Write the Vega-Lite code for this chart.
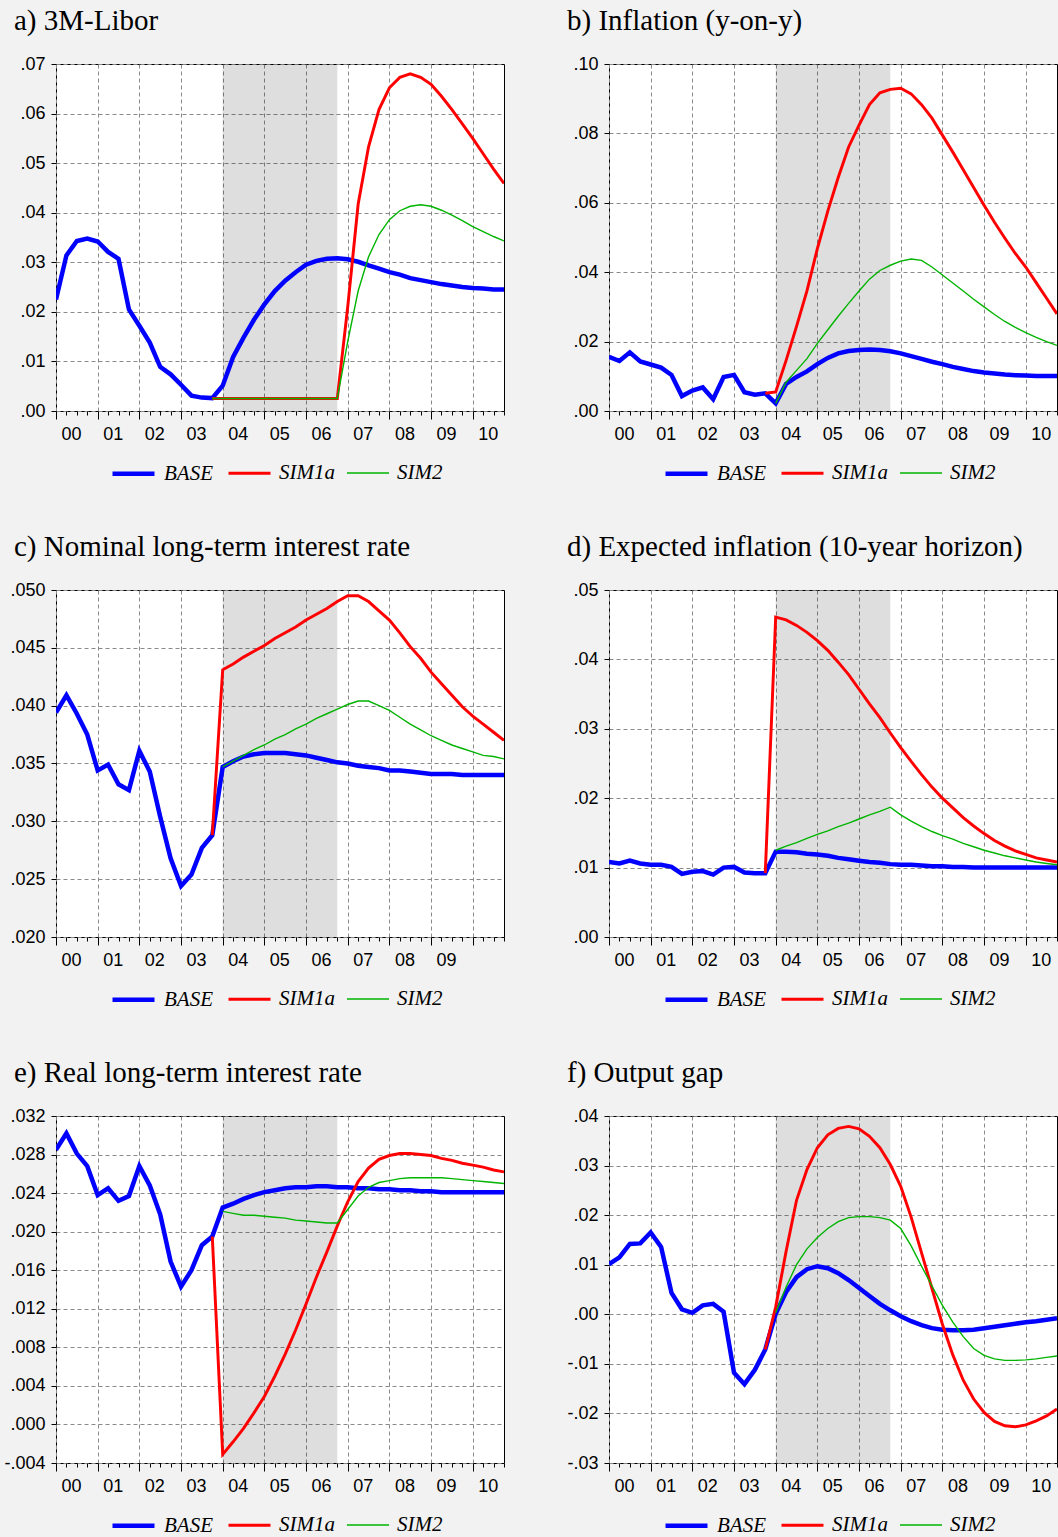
{
  "$schema": "https://vega.github.io/schema/vega-lite/v6.json",
  "background": "#f2f2f2",
  "padding": {"left": 3, "top": 6, "right": 0, "bottom": 0},
  "columns": 2,
  "spacing": {"row": 47, "column": 46},
  "resolve": {
    "scale": {"x": "independent", "y": "independent", "color": "independent", "strokeWidth": "independent"},
    "legend": {"color": "independent", "strokeWidth": "independent"}
  },
  "config": {
    "view": {"stroke": "#000000", "strokeWidth": 1, "fill": "#ffffff"},
    "title": {"anchor": "start", "frame": "group", "dx": -42, "font": "Liberation Serif", "fontSize": 29, "fontWeight": "normal", "color": "#000000", "offset": 19},
    "axis": {
      "domain": false, "labelFont": "Liberation Sans", "labelFontSize": 18, "labelColor": "#000000",
      "tickColor": "#000000", "gridColor": "#8a8a8a", "gridDash": [4, 3], "gridWidth": 1,
      "labelOverlap": false, "labelFlush": false, "labelBound": false
    },
    "axisX": {"labelOffset": 15, "labelPadding": 6},
    "axisY": {"tickSize": 5, "labelPadding": 6},
    "legend": {
      "symbolType": "stroke", "symbolSize": 1764, "labelFont": "Liberation Serif", "labelFontStyle": "italic",
      "labelFontSize": 21, "labelColor": "#000000", "labelOffset": 7, "columnPadding": 9, "labelLimit": 300
    }
  },
  "datasets": {
    "a": [
      {"q":0,"BASE":0.0225},{"q":1,"BASE":0.0314},{"q":2,"BASE":0.0343},{"q":3,"BASE":0.0348},{"q":4,"BASE":0.0342},
      {"q":5,"BASE":0.0321},{"q":6,"BASE":0.0307},{"q":7,"BASE":0.0205},{"q":8,"BASE":0.0172},{"q":9,"BASE":0.0138},
      {"q":10,"BASE":0.0089},{"q":11,"BASE":0.0074},{"q":12,"BASE":0.0053},{"q":13,"BASE":0.0031},{"q":14,"BASE":0.0027},
      {"q":15,"BASE":0.0026,"SIM1a":0.00253,"SIM2":0.00253},
      {"q":16,"BASE":0.0051,"SIM1a":0.00253,"SIM2":0.00253},
      {"q":17,"BASE":0.0109,"SIM1a":0.00253,"SIM2":0.00253},
      {"q":18,"BASE":0.0148,"SIM1a":0.00253,"SIM2":0.00253},
      {"q":19,"BASE":0.0184,"SIM1a":0.00253,"SIM2":0.00253},
      {"q":20,"BASE":0.0215,"SIM1a":0.00253,"SIM2":0.00253},
      {"q":21,"BASE":0.0242,"SIM1a":0.00253,"SIM2":0.00253},
      {"q":22,"BASE":0.0263,"SIM1a":0.00253,"SIM2":0.00253},
      {"q":23,"BASE":0.0280,"SIM1a":0.00253,"SIM2":0.00253},
      {"q":24,"BASE":0.0295,"SIM1a":0.00253,"SIM2":0.00253},
      {"q":25,"BASE":0.0303,"SIM1a":0.00253,"SIM2":0.00253},
      {"q":26,"BASE":0.0307,"SIM1a":0.00253,"SIM2":0.00253},
      {"q":27,"BASE":0.0308,"SIM1a":0.00253,"SIM2":0.00253},
      {"q":28,"BASE":0.0306,"SIM1a":0.0210,"SIM2":0.0140},
      {"q":29,"BASE":0.0301,"SIM1a":0.0417,"SIM2":0.0242},
      {"q":30,"BASE":0.0294,"SIM1a":0.0533,"SIM2":0.0311},
      {"q":31,"BASE":0.0287,"SIM1a":0.0608,"SIM2":0.0356},
      {"q":32,"BASE":0.0280,"SIM1a":0.0652,"SIM2":0.0386},
      {"q":33,"BASE":0.0275,"SIM1a":0.0673,"SIM2":0.0404},
      {"q":34,"BASE":0.0268,"SIM1a":0.0680,"SIM2":0.0413},
      {"q":35,"BASE":0.0264,"SIM1a":0.0673,"SIM2":0.0416},
      {"q":36,"BASE":0.0260,"SIM1a":0.0659,"SIM2":0.0413},
      {"q":37,"BASE":0.0256,"SIM1a":0.0635,"SIM2":0.0405},
      {"q":38,"BASE":0.0253,"SIM1a":0.0608,"SIM2":0.0395},
      {"q":39,"BASE":0.0250,"SIM1a":0.0579,"SIM2":0.0384},
      {"q":40,"BASE":0.0248,"SIM1a":0.0550,"SIM2":0.0372},
      {"q":41,"BASE":0.0247,"SIM1a":0.0519,"SIM2":0.0362},
      {"q":42,"BASE":0.0245,"SIM1a":0.0488,"SIM2":0.0352},
      {"q":43,"BASE":0.0245,"SIM1a":0.0459,"SIM2":0.0343}
    ],
    "b": [
      {"q":0,"BASE":0.0156},{"q":1,"BASE":0.0144},{"q":2,"BASE":0.0169},{"q":3,"BASE":0.0143},{"q":4,"BASE":0.0134},
      {"q":5,"BASE":0.0125},{"q":6,"BASE":0.0104},{"q":7,"BASE":0.0043},{"q":8,"BASE":0.0059},{"q":9,"BASE":0.0068},
      {"q":10,"BASE":0.0034},{"q":11,"BASE":0.0098},{"q":12,"BASE":0.0104},{"q":13,"BASE":0.0054},{"q":14,"BASE":0.0047},
      {"q":15,"BASE":0.0051,"SIM1a":0.0051},
      {"q":16,"BASE":0.0022,"SIM1a":0.0055,"SIM2":0.0022},
      {"q":17,"BASE":0.0078,"SIM1a":0.0146,"SIM2":0.0083},
      {"q":18,"BASE":0.0098,"SIM1a":0.0244,"SIM2":0.0117},
      {"q":19,"BASE":0.0114,"SIM1a":0.0346,"SIM2":0.0151},
      {"q":20,"BASE":0.0135,"SIM1a":0.0468,"SIM2":0.0195},
      {"q":21,"BASE":0.0153,"SIM1a":0.0576,"SIM2":0.0234},
      {"q":22,"BASE":0.0166,"SIM1a":0.0673,"SIM2":0.0273},
      {"q":23,"BASE":0.0173,"SIM1a":0.0761,"SIM2":0.0310},
      {"q":24,"BASE":0.0176,"SIM1a":0.0824,"SIM2":0.0346},
      {"q":25,"BASE":0.0177,"SIM1a":0.0883,"SIM2":0.0380},
      {"q":26,"BASE":0.0176,"SIM1a":0.0917,"SIM2":0.0405},
      {"q":27,"BASE":0.0172,"SIM1a":0.0927,"SIM2":0.0420},
      {"q":28,"BASE":0.0166,"SIM1a":0.0930,"SIM2":0.0432},
      {"q":29,"BASE":0.0158,"SIM1a":0.0914,"SIM2":0.0438},
      {"q":30,"BASE":0.0150,"SIM1a":0.0883,"SIM2":0.0434},
      {"q":31,"BASE":0.0142,"SIM1a":0.0844,"SIM2":0.0415},
      {"q":32,"BASE":0.0135,"SIM1a":0.0795,"SIM2":0.0392},
      {"q":33,"BASE":0.0127,"SIM1a":0.0746,"SIM2":0.0369},
      {"q":34,"BASE":0.0121,"SIM1a":0.0695,"SIM2":0.0346},
      {"q":35,"BASE":0.0115,"SIM1a":0.0644,"SIM2":0.0322},
      {"q":36,"BASE":0.0111,"SIM1a":0.0593,"SIM2":0.0300},
      {"q":37,"BASE":0.0108,"SIM1a":0.0544,"SIM2":0.0278},
      {"q":38,"BASE":0.0105,"SIM1a":0.0498,"SIM2":0.0258},
      {"q":39,"BASE":0.0103,"SIM1a":0.0454,"SIM2":0.0241},
      {"q":40,"BASE":0.0102,"SIM1a":0.0415,"SIM2":0.0226},
      {"q":41,"BASE":0.0101,"SIM1a":0.0370,"SIM2":0.0212},
      {"q":42,"BASE":0.0101,"SIM1a":0.0325,"SIM2":0.0200},
      {"q":43,"BASE":0.0101,"SIM1a":0.0280,"SIM2":0.0189}
    ],
    "c": [
      {"q":0,"BASE":0.0394},{"q":1,"BASE":0.0409},{"q":2,"BASE":0.0393},{"q":3,"BASE":0.0375},{"q":4,"BASE":0.0344},
      {"q":5,"BASE":0.0349},{"q":6,"BASE":0.0332},{"q":7,"BASE":0.0327},{"q":8,"BASE":0.0361},{"q":9,"BASE":0.0343},
      {"q":10,"BASE":0.0304},{"q":11,"BASE":0.0268},{"q":12,"BASE":0.0244},{"q":13,"BASE":0.0254},{"q":14,"BASE":0.0277},
      {"q":15,"BASE":0.0288,"SIM1a":0.0288},
      {"q":16,"BASE":0.0347,"SIM1a":0.0431,"SIM2":0.0347},
      {"q":17,"BASE":0.0352,"SIM1a":0.0436,"SIM2":0.0352},
      {"q":18,"BASE":0.0356,"SIM1a":0.0442,"SIM2":0.0357},
      {"q":19,"BASE":0.0358,"SIM1a":0.0447,"SIM2":0.0362},
      {"q":20,"BASE":0.0359,"SIM1a":0.0452,"SIM2":0.0366},
      {"q":21,"BASE":0.0359,"SIM1a":0.0458,"SIM2":0.0371},
      {"q":22,"BASE":0.0359,"SIM1a":0.0463,"SIM2":0.0375},
      {"q":23,"BASE":0.0358,"SIM1a":0.0468,"SIM2":0.0380},
      {"q":24,"BASE":0.0357,"SIM1a":0.0474,"SIM2":0.0384},
      {"q":25,"BASE":0.0355,"SIM1a":0.0479,"SIM2":0.0389},
      {"q":26,"BASE":0.0353,"SIM1a":0.0484,"SIM2":0.0393},
      {"q":27,"BASE":0.0351,"SIM1a":0.0490,"SIM2":0.0397},
      {"q":28,"BASE":0.0350,"SIM1a":0.0495,"SIM2":0.0401},
      {"q":29,"BASE":0.0348,"SIM1a":0.0495,"SIM2":0.0404},
      {"q":30,"BASE":0.0347,"SIM1a":0.0490,"SIM2":0.0404},
      {"q":31,"BASE":0.0346,"SIM1a":0.0482,"SIM2":0.0400},
      {"q":32,"BASE":0.0344,"SIM1a":0.0474,"SIM2":0.0396},
      {"q":33,"BASE":0.0344,"SIM1a":0.0463,"SIM2":0.0390},
      {"q":34,"BASE":0.0343,"SIM1a":0.0451,"SIM2":0.0384},
      {"q":35,"BASE":0.0342,"SIM1a":0.0441,"SIM2":0.0379},
      {"q":36,"BASE":0.0341,"SIM1a":0.0429,"SIM2":0.0374},
      {"q":37,"BASE":0.0341,"SIM1a":0.0419,"SIM2":0.0370},
      {"q":38,"BASE":0.0341,"SIM1a":0.0409,"SIM2":0.0366},
      {"q":39,"BASE":0.0340,"SIM1a":0.0399,"SIM2":0.0363},
      {"q":40,"BASE":0.0340,"SIM1a":0.0391,"SIM2":0.0360},
      {"q":41,"BASE":0.0340,"SIM1a":0.0384,"SIM2":0.0357},
      {"q":42,"BASE":0.0340,"SIM1a":0.0377,"SIM2":0.0356},
      {"q":43,"BASE":0.0340,"SIM1a":0.0370,"SIM2":0.0354}
    ],
    "d": [
      {"q":0,"BASE":0.0108},{"q":1,"BASE":0.0106},{"q":2,"BASE":0.0110},{"q":3,"BASE":0.0106},{"q":4,"BASE":0.0104},
      {"q":5,"BASE":0.0104},{"q":6,"BASE":0.0101},{"q":7,"BASE":0.0091},{"q":8,"BASE":0.0094},{"q":9,"BASE":0.0095},
      {"q":10,"BASE":0.0090},{"q":11,"BASE":0.0100},{"q":12,"BASE":0.0101},{"q":13,"BASE":0.0093},{"q":14,"BASE":0.0092},
      {"q":15,"BASE":0.0092,"SIM1a":0.0092},
      {"q":16,"BASE":0.0123,"SIM1a":0.0461,"SIM2":0.0125},
      {"q":17,"BASE":0.0123,"SIM1a":0.0457,"SIM2":0.0131},
      {"q":18,"BASE":0.0122,"SIM1a":0.0449,"SIM2":0.0136},
      {"q":19,"BASE":0.0120,"SIM1a":0.0439,"SIM2":0.0142},
      {"q":20,"BASE":0.0119,"SIM1a":0.0427,"SIM2":0.0148},
      {"q":21,"BASE":0.0117,"SIM1a":0.0413,"SIM2":0.0153},
      {"q":22,"BASE":0.0114,"SIM1a":0.0396,"SIM2":0.0159},
      {"q":23,"BASE":0.0112,"SIM1a":0.0378,"SIM2":0.0164},
      {"q":24,"BASE":0.0110,"SIM1a":0.0357,"SIM2":0.0170},
      {"q":25,"BASE":0.0108,"SIM1a":0.0336,"SIM2":0.0176},
      {"q":26,"BASE":0.0107,"SIM1a":0.0316,"SIM2":0.0181},
      {"q":27,"BASE":0.0105,"SIM1a":0.0294,"SIM2":0.0187},
      {"q":28,"BASE":0.0104,"SIM1a":0.0273,"SIM2":0.0176},
      {"q":29,"BASE":0.0104,"SIM1a":0.0253,"SIM2":0.0167},
      {"q":30,"BASE":0.0103,"SIM1a":0.0234,"SIM2":0.0159},
      {"q":31,"BASE":0.0102,"SIM1a":0.0216,"SIM2":0.0152},
      {"q":32,"BASE":0.0102,"SIM1a":0.0200,"SIM2":0.0146},
      {"q":33,"BASE":0.0101,"SIM1a":0.0186,"SIM2":0.0141},
      {"q":34,"BASE":0.0101,"SIM1a":0.0172,"SIM2":0.0135},
      {"q":35,"BASE":0.0100,"SIM1a":0.0160,"SIM2":0.0130},
      {"q":36,"BASE":0.0100,"SIM1a":0.0149,"SIM2":0.0125},
      {"q":37,"BASE":0.0100,"SIM1a":0.0139,"SIM2":0.0121},
      {"q":38,"BASE":0.0100,"SIM1a":0.0131,"SIM2":0.0117},
      {"q":39,"BASE":0.0100,"SIM1a":0.0124,"SIM2":0.0114},
      {"q":40,"BASE":0.0100,"SIM1a":0.0119,"SIM2":0.0111},
      {"q":41,"BASE":0.0100,"SIM1a":0.0114,"SIM2":0.0108},
      {"q":42,"BASE":0.0100,"SIM1a":0.0111,"SIM2":0.0106},
      {"q":43,"BASE":0.0100,"SIM1a":0.0108,"SIM2":0.0104}
    ],
    "e": [
      {"q":0,"BASE":0.0285},{"q":1,"BASE":0.0302},{"q":2,"BASE":0.0281},{"q":3,"BASE":0.0268},{"q":4,"BASE":0.0238},
      {"q":5,"BASE":0.0245},{"q":6,"BASE":0.0232},{"q":7,"BASE":0.0237},{"q":8,"BASE":0.0268},{"q":9,"BASE":0.0248},
      {"q":10,"BASE":0.0218},{"q":11,"BASE":0.0169},{"q":12,"BASE":0.0143},{"q":13,"BASE":0.0160},{"q":14,"BASE":0.0186},
      {"q":15,"BASE":0.0195,"SIM1a":0.0195},
      {"q":16,"BASE":0.0225,"SIM1a":-0.0031,"SIM2":0.0221},
      {"q":17,"BASE":0.0229,"SIM1a":-0.0018,"SIM2":0.0219},
      {"q":18,"BASE":0.0234,"SIM1a":-0.0004,"SIM2":0.0217},
      {"q":19,"BASE":0.0238,"SIM1a":0.0012,"SIM2":0.0217},
      {"q":20,"BASE":0.0241,"SIM1a":0.0029,"SIM2":0.0216},
      {"q":21,"BASE":0.0243,"SIM1a":0.0050,"SIM2":0.0215},
      {"q":22,"BASE":0.0245,"SIM1a":0.0073,"SIM2":0.0214},
      {"q":23,"BASE":0.0246,"SIM1a":0.0098,"SIM2":0.0212},
      {"q":24,"BASE":0.0246,"SIM1a":0.0125,"SIM2":0.0211},
      {"q":25,"BASE":0.0247,"SIM1a":0.0153,"SIM2":0.0210},
      {"q":26,"BASE":0.0247,"SIM1a":0.0179,"SIM2":0.0209},
      {"q":27,"BASE":0.0246,"SIM1a":0.0206,"SIM2":0.0209},
      {"q":28,"BASE":0.0246,"SIM1a":0.0231,"SIM2":0.0223},
      {"q":29,"BASE":0.0245,"SIM1a":0.0252,"SIM2":0.0237},
      {"q":30,"BASE":0.0245,"SIM1a":0.0266,"SIM2":0.0246},
      {"q":31,"BASE":0.0244,"SIM1a":0.0275,"SIM2":0.0251},
      {"q":32,"BASE":0.0244,"SIM1a":0.0279,"SIM2":0.0253},
      {"q":33,"BASE":0.0243,"SIM1a":0.0281,"SIM2":0.0255},
      {"q":34,"BASE":0.0243,"SIM1a":0.0281,"SIM2":0.0256},
      {"q":35,"BASE":0.0242,"SIM1a":0.0280,"SIM2":0.0256},
      {"q":36,"BASE":0.0242,"SIM1a":0.0279,"SIM2":0.0256},
      {"q":37,"BASE":0.0241,"SIM1a":0.0276,"SIM2":0.0256},
      {"q":38,"BASE":0.0241,"SIM1a":0.0274,"SIM2":0.0255},
      {"q":39,"BASE":0.0241,"SIM1a":0.0271,"SIM2":0.0254},
      {"q":40,"BASE":0.0241,"SIM1a":0.0269,"SIM2":0.0253},
      {"q":41,"BASE":0.0241,"SIM1a":0.0267,"SIM2":0.0252},
      {"q":42,"BASE":0.0241,"SIM1a":0.0264,"SIM2":0.0251},
      {"q":43,"BASE":0.0241,"SIM1a":0.0262,"SIM2":0.0250}
    ],
    "f": [
      {"q":0,"BASE":0.0101},{"q":1,"BASE":0.0115},{"q":2,"BASE":0.0142},{"q":3,"BASE":0.0143},{"q":4,"BASE":0.0165},
      {"q":5,"BASE":0.0136},{"q":6,"BASE":0.0043},{"q":7,"BASE":0.0010},{"q":8,"BASE":0.0003},{"q":9,"BASE":0.0018},
      {"q":10,"BASE":0.0021},{"q":11,"BASE":0.0005},{"q":12,"BASE":-0.0118},{"q":13,"BASE":-0.0141},{"q":14,"BASE":-0.0112},
      {"q":15,"BASE":-0.0071,"SIM1a":-0.0071},
      {"q":16,"BASE":0.0001,"SIM1a":0.0015,"SIM2":0.0003},
      {"q":17,"BASE":0.0045,"SIM1a":0.0127,"SIM2":0.0055},
      {"q":18,"BASE":0.0075,"SIM1a":0.0230,"SIM2":0.0100},
      {"q":19,"BASE":0.0091,"SIM1a":0.0292,"SIM2":0.0132},
      {"q":20,"BASE":0.0097,"SIM1a":0.0336,"SIM2":0.0155},
      {"q":21,"BASE":0.0093,"SIM1a":0.0362,"SIM2":0.0173},
      {"q":22,"BASE":0.0083,"SIM1a":0.0375,"SIM2":0.0187},
      {"q":23,"BASE":0.0069,"SIM1a":0.0379,"SIM2":0.0195},
      {"q":24,"BASE":0.0053,"SIM1a":0.0374,"SIM2":0.0197},
      {"q":25,"BASE":0.0037,"SIM1a":0.0359,"SIM2":0.0197},
      {"q":26,"BASE":0.0021,"SIM1a":0.0336,"SIM2":0.0195},
      {"q":27,"BASE":0.0008,"SIM1a":0.0302,"SIM2":0.0190},
      {"q":28,"BASE":-0.0004,"SIM1a":0.0258,"SIM2":0.0173},
      {"q":29,"BASE":-0.0014,"SIM1a":0.0196,"SIM2":0.0138},
      {"q":30,"BASE":-0.0022,"SIM1a":0.0124,"SIM2":0.0097},
      {"q":31,"BASE":-0.0028,"SIM1a":0.0052,"SIM2":0.0057},
      {"q":32,"BASE":-0.0031,"SIM1a":-0.0020,"SIM2":0.0018},
      {"q":33,"BASE":-0.0032,"SIM1a":-0.0082,"SIM2":-0.0016},
      {"q":34,"BASE":-0.0032,"SIM1a":-0.0133,"SIM2":-0.0045},
      {"q":35,"BASE":-0.0031,"SIM1a":-0.0171,"SIM2":-0.0069},
      {"q":36,"BASE":-0.0028,"SIM1a":-0.0198,"SIM2":-0.0083},
      {"q":37,"BASE":-0.0025,"SIM1a":-0.0216,"SIM2":-0.0090},
      {"q":38,"BASE":-0.0022,"SIM1a":-0.0225,"SIM2":-0.0093},
      {"q":39,"BASE":-0.0019,"SIM1a":-0.0227,"SIM2":-0.0093},
      {"q":40,"BASE":-0.0016,"SIM1a":-0.0223,"SIM2":-0.0092},
      {"q":41,"BASE":-0.0014,"SIM1a":-0.0215,"SIM2":-0.0090},
      {"q":42,"BASE":-0.0011,"SIM1a":-0.0205,"SIM2":-0.0087},
      {"q":43,"BASE":-0.0008,"SIM1a":-0.0191,"SIM2":-0.0084}
    ],
    "shade": [{"s": 16, "e": 27}]
  },
  "concat": [
    {
      "title": "a) 3M-Libor",
      "width": 448, "height": 347,
      "layer": [
        {"data": {"name": "shade"}, "mark": {"type": "rect", "color": "#000000", "opacity": 0.13},
         "encoding": {"x": {"field": "s", "type": "quantitative", "scale": {"domain": [0, 43], "nice": false, "zero": false},
                 "axis": {"title": null, "values": [0,1,2,3,4,5,6,7,8,9,10,11,12,13,14,15,16,17,18,19,20,21,22,23,24,25,26,27,28,29,30,31,32,33,34,35,36,37,38,39,40,41,42,43],
                          "labelExpr": "datum.value % 4 === 0 ? (datum.value < 40 ? '0' : '') + (datum.value / 4) : ''",
                          "tickSize": {"condition": {"test": "datum.value % 4 === 0", "value": 8}, "value": 4},
                          "gridOpacity": {"condition": {"test": "datum.value % 4 === 0", "value": 1}, "value": 0}}}, "x2": {"field": "e"}}},
        {"data": {"name": "a"}, "transform": [{"fold": ["BASE", "SIM1a", "SIM2"], "as": ["series", "v"]}],
         "mark": {"type": "line", "clip": true},
         "encoding": {
           "x": {"field": "q", "type": "quantitative", "scale": {"domain": [0, 43], "nice": false, "zero": false},
                 "axis": {"title": null, "values": [0,1,2,3,4,5,6,7,8,9,10,11,12,13,14,15,16,17,18,19,20,21,22,23,24,25,26,27,28,29,30,31,32,33,34,35,36,37,38,39,40,41,42,43],
                          "labelExpr": "datum.value % 4 === 0 ? (datum.value < 40 ? '0' : '') + (datum.value / 4) : ''",
                          "tickSize": {"condition": {"test": "datum.value % 4 === 0", "value": 8}, "value": 4},
                          "gridOpacity": {"condition": {"test": "datum.value % 4 === 0", "value": 1}, "value": 0}}},
           "y": {"field": "v", "type": "quantitative", "scale": {"domain": [0, 0.07], "nice": false, "zero": false},
                 "axis": {"title": null, "values": [0, 0.01, 0.02, 0.03, 0.04, 0.05, 0.06, 0.07], "labelExpr": "replace(replace(format(datum.value, '.2f'), '0.', '.'), '\u2212', '-')"}},
           "color": {"field": "series", "type": "nominal", "scale": {"domain": ["BASE", "SIM1a", "SIM2"], "range": ["#0000ff", "#ff0000", "#00b400"]},
                     "legend": {"orient": "none", "legendX": 54, "legendY": 386, "direction": "horizontal", "title": null}},
           "strokeWidth": {"field": "series", "type": "ordinal", "scale": {"domain": ["BASE", "SIM1a", "SIM2"], "range": [4.5, 1.4, 1.4]},
                     "legend": {"orient": "none", "legendX": 54, "legendY": 386, "direction": "horizontal", "title": null}}
         }}
      ]
    },
    {
      "title": "b) Inflation (y-on-y)",
      "width": 448, "height": 347,
      "layer": [
        {"data": {"name": "shade"}, "mark": {"type": "rect", "color": "#000000", "opacity": 0.13},
         "encoding": {"x": {"field": "s", "type": "quantitative", "scale": {"domain": [0, 43], "nice": false, "zero": false},
                 "axis": {"title": null, "values": [0,1,2,3,4,5,6,7,8,9,10,11,12,13,14,15,16,17,18,19,20,21,22,23,24,25,26,27,28,29,30,31,32,33,34,35,36,37,38,39,40,41,42,43],
                          "labelExpr": "datum.value % 4 === 0 ? (datum.value < 40 ? '0' : '') + (datum.value / 4) : ''",
                          "tickSize": {"condition": {"test": "datum.value % 4 === 0", "value": 8}, "value": 4},
                          "gridOpacity": {"condition": {"test": "datum.value % 4 === 0", "value": 1}, "value": 0}}}, "x2": {"field": "e"}}},
        {"data": {"name": "b"}, "transform": [{"fold": ["BASE", "SIM1a", "SIM2"], "as": ["series", "v"]}],
         "mark": {"type": "line", "clip": true},
         "encoding": {
           "x": {"field": "q", "type": "quantitative", "scale": {"domain": [0, 43], "nice": false, "zero": false},
                 "axis": {"title": null, "values": [0,1,2,3,4,5,6,7,8,9,10,11,12,13,14,15,16,17,18,19,20,21,22,23,24,25,26,27,28,29,30,31,32,33,34,35,36,37,38,39,40,41,42,43],
                          "labelExpr": "datum.value % 4 === 0 ? (datum.value < 40 ? '0' : '') + (datum.value / 4) : ''",
                          "tickSize": {"condition": {"test": "datum.value % 4 === 0", "value": 8}, "value": 4},
                          "gridOpacity": {"condition": {"test": "datum.value % 4 === 0", "value": 1}, "value": 0}}},
           "y": {"field": "v", "type": "quantitative", "scale": {"domain": [0, 0.1], "nice": false, "zero": false},
                 "axis": {"title": null, "values": [0, 0.02, 0.04, 0.06, 0.08, 0.1], "labelExpr": "replace(replace(format(datum.value, '.2f'), '0.', '.'), '\u2212', '-')"}},
           "color": {"field": "series", "type": "nominal", "scale": {"domain": ["BASE", "SIM1a", "SIM2"], "range": ["#0000ff", "#ff0000", "#00b400"]},
                     "legend": {"orient": "none", "legendX": 54, "legendY": 386, "direction": "horizontal", "title": null}},
           "strokeWidth": {"field": "series", "type": "ordinal", "scale": {"domain": ["BASE", "SIM1a", "SIM2"], "range": [4.5, 1.4, 1.4]},
                     "legend": {"orient": "none", "legendX": 54, "legendY": 386, "direction": "horizontal", "title": null}}
         }}
      ]
    },
    {
      "title": "c) Nominal long-term interest rate",
      "width": 448, "height": 347,
      "layer": [
        {"data": {"name": "shade"}, "mark": {"type": "rect", "color": "#000000", "opacity": 0.13},
         "encoding": {"x": {"field": "s", "type": "quantitative", "scale": {"domain": [0, 43], "nice": false, "zero": false},
                 "axis": {"title": null, "values": [0,1,2,3,4,5,6,7,8,9,10,11,12,13,14,15,16,17,18,19,20,21,22,23,24,25,26,27,28,29,30,31,32,33,34,35,36,37,38,39,40,41,42,43],
                          "labelExpr": "datum.value % 4 === 0 && datum.value < 40 ? '0' + (datum.value / 4) : ''",
                          "tickSize": {"condition": {"test": "datum.value % 4 === 0", "value": 8}, "value": 4},
                          "gridOpacity": {"condition": {"test": "datum.value % 4 === 0", "value": 1}, "value": 0}}}, "x2": {"field": "e"}}},
        {"data": {"name": "c"}, "transform": [{"fold": ["BASE", "SIM1a", "SIM2"], "as": ["series", "v"]}],
         "mark": {"type": "line", "clip": true},
         "encoding": {
           "x": {"field": "q", "type": "quantitative", "scale": {"domain": [0, 43], "nice": false, "zero": false},
                 "axis": {"title": null, "values": [0,1,2,3,4,5,6,7,8,9,10,11,12,13,14,15,16,17,18,19,20,21,22,23,24,25,26,27,28,29,30,31,32,33,34,35,36,37,38,39,40,41,42,43],
                          "labelExpr": "datum.value % 4 === 0 && datum.value < 40 ? '0' + (datum.value / 4) : ''",
                          "tickSize": {"condition": {"test": "datum.value % 4 === 0", "value": 8}, "value": 4},
                          "gridOpacity": {"condition": {"test": "datum.value % 4 === 0", "value": 1}, "value": 0}}},
           "y": {"field": "v", "type": "quantitative", "scale": {"domain": [0.02, 0.05], "nice": false, "zero": false},
                 "axis": {"title": null, "values": [0.02, 0.025, 0.03, 0.035, 0.04, 0.045, 0.05], "labelExpr": "replace(replace(format(datum.value, '.3f'), '0.', '.'), '\u2212', '-')"}},
           "color": {"field": "series", "type": "nominal", "scale": {"domain": ["BASE", "SIM1a", "SIM2"], "range": ["#0000ff", "#ff0000", "#00b400"]},
                     "legend": {"orient": "none", "legendX": 54, "legendY": 386, "direction": "horizontal", "title": null}},
           "strokeWidth": {"field": "series", "type": "ordinal", "scale": {"domain": ["BASE", "SIM1a", "SIM2"], "range": [4.5, 1.4, 1.4]},
                     "legend": {"orient": "none", "legendX": 54, "legendY": 386, "direction": "horizontal", "title": null}}
         }}
      ]
    },
    {
      "title": "d) Expected inflation (10-year horizon)",
      "width": 448, "height": 347,
      "layer": [
        {"data": {"name": "shade"}, "mark": {"type": "rect", "color": "#000000", "opacity": 0.13},
         "encoding": {"x": {"field": "s", "type": "quantitative", "scale": {"domain": [0, 43], "nice": false, "zero": false},
                 "axis": {"title": null, "values": [0,1,2,3,4,5,6,7,8,9,10,11,12,13,14,15,16,17,18,19,20,21,22,23,24,25,26,27,28,29,30,31,32,33,34,35,36,37,38,39,40,41,42,43],
                          "labelExpr": "datum.value % 4 === 0 ? (datum.value < 40 ? '0' : '') + (datum.value / 4) : ''",
                          "tickSize": {"condition": {"test": "datum.value % 4 === 0", "value": 8}, "value": 4},
                          "gridOpacity": {"condition": {"test": "datum.value % 4 === 0", "value": 1}, "value": 0}}}, "x2": {"field": "e"}}},
        {"data": {"name": "d"}, "transform": [{"fold": ["BASE", "SIM1a", "SIM2"], "as": ["series", "v"]}],
         "mark": {"type": "line", "clip": true},
         "encoding": {
           "x": {"field": "q", "type": "quantitative", "scale": {"domain": [0, 43], "nice": false, "zero": false},
                 "axis": {"title": null, "values": [0,1,2,3,4,5,6,7,8,9,10,11,12,13,14,15,16,17,18,19,20,21,22,23,24,25,26,27,28,29,30,31,32,33,34,35,36,37,38,39,40,41,42,43],
                          "labelExpr": "datum.value % 4 === 0 ? (datum.value < 40 ? '0' : '') + (datum.value / 4) : ''",
                          "tickSize": {"condition": {"test": "datum.value % 4 === 0", "value": 8}, "value": 4},
                          "gridOpacity": {"condition": {"test": "datum.value % 4 === 0", "value": 1}, "value": 0}}},
           "y": {"field": "v", "type": "quantitative", "scale": {"domain": [0, 0.05], "nice": false, "zero": false},
                 "axis": {"title": null, "values": [0, 0.01, 0.02, 0.03, 0.04, 0.05], "labelExpr": "replace(replace(format(datum.value, '.2f'), '0.', '.'), '\u2212', '-')"}},
           "color": {"field": "series", "type": "nominal", "scale": {"domain": ["BASE", "SIM1a", "SIM2"], "range": ["#0000ff", "#ff0000", "#00b400"]},
                     "legend": {"orient": "none", "legendX": 54, "legendY": 386, "direction": "horizontal", "title": null}},
           "strokeWidth": {"field": "series", "type": "ordinal", "scale": {"domain": ["BASE", "SIM1a", "SIM2"], "range": [4.5, 1.4, 1.4]},
                     "legend": {"orient": "none", "legendX": 54, "legendY": 386, "direction": "horizontal", "title": null}}
         }}
      ]
    },
    {
      "title": "e) Real long-term interest rate",
      "width": 448, "height": 347,
      "layer": [
        {"data": {"name": "shade"}, "mark": {"type": "rect", "color": "#000000", "opacity": 0.13},
         "encoding": {"x": {"field": "s", "type": "quantitative", "scale": {"domain": [0, 43], "nice": false, "zero": false},
                 "axis": {"title": null, "values": [0,1,2,3,4,5,6,7,8,9,10,11,12,13,14,15,16,17,18,19,20,21,22,23,24,25,26,27,28,29,30,31,32,33,34,35,36,37,38,39,40,41,42,43],
                          "labelExpr": "datum.value % 4 === 0 ? (datum.value < 40 ? '0' : '') + (datum.value / 4) : ''",
                          "tickSize": {"condition": {"test": "datum.value % 4 === 0", "value": 8}, "value": 4},
                          "gridOpacity": {"condition": {"test": "datum.value % 4 === 0", "value": 1}, "value": 0}}}, "x2": {"field": "e"}}},
        {"data": {"name": "e"}, "transform": [{"fold": ["BASE", "SIM1a", "SIM2"], "as": ["series", "v"]}],
         "mark": {"type": "line", "clip": true},
         "encoding": {
           "x": {"field": "q", "type": "quantitative", "scale": {"domain": [0, 43], "nice": false, "zero": false},
                 "axis": {"title": null, "values": [0,1,2,3,4,5,6,7,8,9,10,11,12,13,14,15,16,17,18,19,20,21,22,23,24,25,26,27,28,29,30,31,32,33,34,35,36,37,38,39,40,41,42,43],
                          "labelExpr": "datum.value % 4 === 0 ? (datum.value < 40 ? '0' : '') + (datum.value / 4) : ''",
                          "tickSize": {"condition": {"test": "datum.value % 4 === 0", "value": 8}, "value": 4},
                          "gridOpacity": {"condition": {"test": "datum.value % 4 === 0", "value": 1}, "value": 0}}},
           "y": {"field": "v", "type": "quantitative", "scale": {"domain": [-0.004, 0.032], "nice": false, "zero": false},
                 "axis": {"title": null, "values": [-0.004, 0, 0.004, 0.008, 0.012, 0.016, 0.02, 0.024, 0.028, 0.032], "labelExpr": "replace(replace(format(datum.value, '.3f'), '0.', '.'), '\u2212', '-')"}},
           "color": {"field": "series", "type": "nominal", "scale": {"domain": ["BASE", "SIM1a", "SIM2"], "range": ["#0000ff", "#ff0000", "#00b400"]},
                     "legend": {"orient": "none", "legendX": 54, "legendY": 386, "direction": "horizontal", "title": null}},
           "strokeWidth": {"field": "series", "type": "ordinal", "scale": {"domain": ["BASE", "SIM1a", "SIM2"], "range": [4.5, 1.4, 1.4]},
                     "legend": {"orient": "none", "legendX": 54, "legendY": 386, "direction": "horizontal", "title": null}}
         }}
      ]
    },
    {
      "title": "f) Output gap",
      "width": 448, "height": 347,
      "layer": [
        {"data": {"name": "shade"}, "mark": {"type": "rect", "color": "#000000", "opacity": 0.13},
         "encoding": {"x": {"field": "s", "type": "quantitative", "scale": {"domain": [0, 43], "nice": false, "zero": false},
                 "axis": {"title": null, "values": [0,1,2,3,4,5,6,7,8,9,10,11,12,13,14,15,16,17,18,19,20,21,22,23,24,25,26,27,28,29,30,31,32,33,34,35,36,37,38,39,40,41,42,43],
                          "labelExpr": "datum.value % 4 === 0 ? (datum.value < 40 ? '0' : '') + (datum.value / 4) : ''",
                          "tickSize": {"condition": {"test": "datum.value % 4 === 0", "value": 8}, "value": 4},
                          "gridOpacity": {"condition": {"test": "datum.value % 4 === 0", "value": 1}, "value": 0}}}, "x2": {"field": "e"}}},
        {"data": {"name": "f"}, "transform": [{"fold": ["BASE", "SIM1a", "SIM2"], "as": ["series", "v"]}],
         "mark": {"type": "line", "clip": true},
         "encoding": {
           "x": {"field": "q", "type": "quantitative", "scale": {"domain": [0, 43], "nice": false, "zero": false},
                 "axis": {"title": null, "values": [0,1,2,3,4,5,6,7,8,9,10,11,12,13,14,15,16,17,18,19,20,21,22,23,24,25,26,27,28,29,30,31,32,33,34,35,36,37,38,39,40,41,42,43],
                          "labelExpr": "datum.value % 4 === 0 ? (datum.value < 40 ? '0' : '') + (datum.value / 4) : ''",
                          "tickSize": {"condition": {"test": "datum.value % 4 === 0", "value": 8}, "value": 4},
                          "gridOpacity": {"condition": {"test": "datum.value % 4 === 0", "value": 1}, "value": 0}}},
           "y": {"field": "v", "type": "quantitative", "scale": {"domain": [-0.03, 0.04], "nice": false, "zero": false},
                 "axis": {"title": null, "values": [-0.03, -0.02, -0.01, 0, 0.01, 0.02, 0.03, 0.04], "labelExpr": "replace(replace(format(datum.value, '.2f'), '0.', '.'), '\u2212', '-')"}},
           "color": {"field": "series", "type": "nominal", "scale": {"domain": ["BASE", "SIM1a", "SIM2"], "range": ["#0000ff", "#ff0000", "#00b400"]},
                     "legend": {"orient": "none", "legendX": 54, "legendY": 386, "direction": "horizontal", "title": null}},
           "strokeWidth": {"field": "series", "type": "ordinal", "scale": {"domain": ["BASE", "SIM1a", "SIM2"], "range": [4.5, 1.4, 1.4]},
                     "legend": {"orient": "none", "legendX": 54, "legendY": 386, "direction": "horizontal", "title": null}}
         }}
      ]
    }
  ]
}
